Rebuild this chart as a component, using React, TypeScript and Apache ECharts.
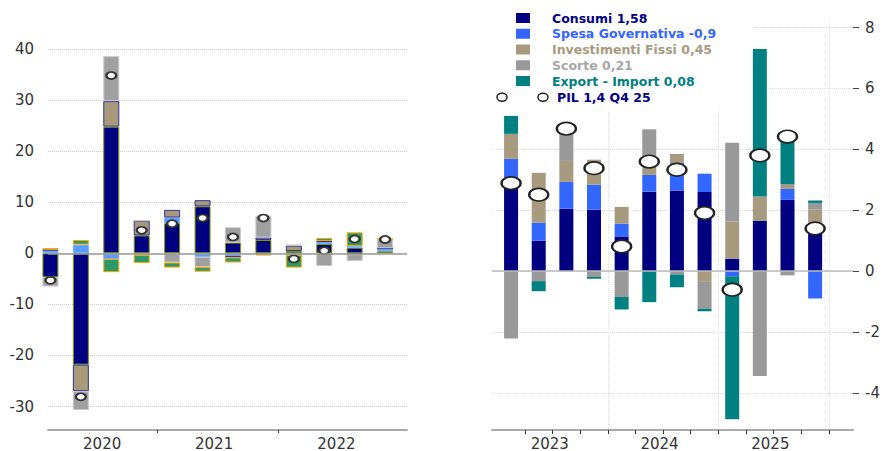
import React, { useEffect, useRef } from 'react';
import * as echarts from 'echarts';

// ---- data (left panel: 2020 Q1 .. 2022 Q4) ----
const leftQuarters = ['2020 Q1','2020 Q2','2020 Q3','2020 Q4','2021 Q1','2021 Q2','2021 Q3','2021 Q4','2022 Q1','2022 Q2','2022 Q3','2022 Q4'];
const leftConsumi = [-4.7, -21.8, 24.8, 3.5, 5.9, 9.2, 2.1, 2.6, 0.45, 1.8, 1.1, 0.4];
const leftSpesa = [0.6, 1.7, -1.1, -0.3, 1.1, -0.7, -0.5, -0.2, -0.3, 0.4, 0.3, 0.6];
const leftInvest = [0.1, -5.2, 5.0, 2.9, 1.5, 1.2, -0.3, 0.5, 1.05, 0.2, -0.2, 0.0];
const leftScorte = [-1.8, -3.7, 8.8, 0.0, -1.8, -2.0, 3.0, 4.2, 0.2, -2.5, -1.3, 1.8];
const leftExport = [0.3, 0.9, -2.6, -1.6, -1.0, -0.9, -1.0, -0.2, -2.5, 0.6, 2.7, 0.0];
const leftPil = [-5.3, -28.1, 34.8, 4.5, 5.8, 6.9, 3.2, 6.9, -1.1, 0.5, 2.8, 2.7];

// ---- data (right panel: 2023 Q1 .. 2025 Q4) ----
const rightQuarters = ['2023 Q1','2023 Q2','2023 Q3','2023 Q4','2024 Q1','2024 Q2','2024 Q3','2024 Q4','2025 Q1','2025 Q2','2025 Q3','2025 Q4'];
const rightConsumi = [2.76, 1.0, 2.05, 2.02, 1.14, 2.61, 2.65, 2.6, 0.41, 1.66, 2.34, 1.58];
const rightSpesa = [0.93, 0.59, 0.88, 0.82, 0.42, 0.55, 0.9, 0.6, -0.17, 0.0, 0.36, -0.9];
const rightInvest = [0.82, 1.64, 0.69, 0.82, 0.55, 0.3, 0.3, -0.33, 1.22, 0.79, 0.15, 0.45];
const rightScorte = [-2.21, -0.33, 1.1, -0.19, -0.85, 1.2, -0.11, -0.91, 2.59, -3.45, -0.14, 0.21];
const rightExport = [0.59, -0.33, 0.0, -0.06, -0.41, -1.02, -0.42, -0.08, -4.7, 4.85, 1.65, 0.08];
const rightPil = [2.89, 2.51, 4.68, 3.38, 0.81, 3.6, 3.33, 1.91, -0.61, 3.8, 4.42, 1.4];

// ---- tick labels ----
const leftYTicks = [-30, -20, -10, 0, 10, 20, 30, 40];
const rightYTicks = [-4, -2, 0, 2, 4, 6, 8];
const leftYears = ['2020', '2021', '2022'];
const rightYears = ['2023', '2024', '2025'];

// ---- legend ----
const seriesNames = ['Consumi', 'Spesa Governativa', 'Investimenti Fissi', 'Scorte', 'Export - Import'];
const legendLabels = ['Consumi 1,58', 'Spesa Governativa -0,9', 'Investimenti Fissi 0,45', 'Scorte 0,21', 'Export - Import 0,08'];
const pilLabel = 'PIL 1,4 Q4 25';

const App: React.FC = () => {
  const ref = useRef<HTMLDivElement>(null);

  useEffect(() => {
    if (!ref.current) return;
    document.body.style.margin = '0';
    const chart = echarts.init(ref.current, undefined, { renderer: 'svg' });

    const leftColors = ['#000080', '#5A9CFF', '#A8997B', '#A0A0A0', '#2E9966'];
    const leftBorders = ['#7A9A00', '#70B0FF', '#333399', '#C8C8C8', '#FFA500'];
    const rightColors = ['#000080', '#3366FF', '#A89A7E', '#999999', '#008080'];
    const legendTextColors = ['#000080', '#3366FF', '#A89A7E', '#A6A6A6', '#008080'];

    const leftData = [leftConsumi, leftSpesa, leftInvest, leftScorte, leftExport];
    const rightData = [rightConsumi, rightSpesa, rightInvest, rightScorte, rightExport];

    // value first, position second -> value dim is stacked
    const toPairs = (arr: number[]) => arr.map((v, i) => [v, i]);

    const font = 'DejaVu Sans';
    const axisText = { color: '#333', fontSize: 15, fontFamily: font };

    const series: any[] = [];
    leftData.forEach((arr, k) => {
      series.push({
        name: seriesNames[k] + ' (2020-2022)',
        type: 'bar',
        xAxisIndex: 0,
        yAxisIndex: 0,
        stack: 'left',
        stackStrategy: 'samesign',
        barWidth: 16,
        clip: true,
        encode: { x: 1, y: 0 },
        data: toPairs(arr),
        itemStyle: { color: leftColors[k], borderColor: leftBorders[k], borderWidth: 1 },
        markLine: k === 0 ? {
          silent: true, symbol: 'none', label: { show: false },
          lineStyle: { color: '#999', type: 'solid', width: 1.5 },
          data: [{ yAxis: 0 }],
        } : undefined,
      });
    });
    series.push({
      name: 'PIL (2020-2022)',
      type: 'scatter',
      xAxisIndex: 0,
      yAxisIndex: 0,
      z: 4,
      symbol: 'circle',
      symbolSize: [10, 7],
      encode: { x: 1, y: 0 },
      data: toPairs(leftPil),
      itemStyle: { color: '#fff', borderColor: '#333', borderWidth: 2, opacity: 1 },
    });
    rightData.forEach((arr, k) => {
      series.push({
        name: seriesNames[k],
        type: 'bar',
        xAxisIndex: 1,
        yAxisIndex: 1,
        stack: 'right',
        stackStrategy: 'samesign',
        barWidth: 14,
        encode: { x: 1, y: 0 },
        data: toPairs(arr),
        itemStyle: { color: rightColors[k] },
        markLine: k === 0 ? {
          silent: true, symbol: 'none', label: { show: false },
          lineStyle: { color: '#bbb', type: 'solid', width: 1.5 },
          data: [{ yAxis: 0 }],
        } : undefined,
      });
    });
    series.push({
      name: 'PIL',
      type: 'scatter',
      xAxisIndex: 1,
      yAxisIndex: 1,
      z: 4,
      symbol: 'circle',
      symbolSize: [19, 12.5],
      encode: { x: 1, y: 0 },
      data: toPairs(rightPil),
      itemStyle: { color: '#fff', borderColor: '#222', borderWidth: 2, opacity: 1 },
    });

    const legendTop = 18;
    const legendStep = 15.75;
    const graphic: any[] = [
      { type: 'rect', z: 1, shape: { x: 480, y: 0, width: 273, height: 109 }, style: { fill: '#fff' }, silent: true },
    ];
    legendLabels.forEach((lbl, k) => {
      const cy = legendTop + legendStep * k;
      graphic.push({ type: 'rect', z: 5, shape: { x: 516, y: cy - 5, width: 14, height: 10 }, style: { fill: rightColors[k] } });
      graphic.push({
        type: 'text', z: 5, x: 552, y: cy,
        style: { text: lbl, fill: legendTextColors[k], font: `bold 12.5px "${font}"`, verticalAlign: 'middle', align: 'left' },
      });
    });
    const pilY = legendTop + legendStep * 5 + 0.5;
    graphic.push({ type: 'ellipse', z: 5, shape: { cx: 502, cy: pilY, rx: 5, ry: 4 }, style: { fill: '#fff', stroke: '#222', lineWidth: 1.5 } });
    graphic.push({ type: 'ellipse', z: 5, shape: { cx: 543, cy: pilY, rx: 5, ry: 4 }, style: { fill: '#fff', stroke: '#222', lineWidth: 1.5 } });
    graphic.push({
      type: 'text', z: 5, x: 557, y: pilY,
      style: { text: pilLabel, fill: '#000080', font: `bold 12.5px "${font}"`, verticalAlign: 'middle', align: 'left' },
    });

    const yearFmt = (years: string[]) => (v: number) => (v < 3.5 ? years[0] : v < 7.5 ? years[1] : years[2]);
    const dotted = { color: '#cfcfcf', type: 'dotted' as const, width: 1 };

    chart.setOption({
      animation: false,
      backgroundColor: '#fff',
      tooltip: { show: false },
      grid: [
        { left: 48, right: 476, top: 49, bottom: 20.3, containLabel: false },
        { left: 492, right: 30, top: 20, bottom: 20.3, containLabel: false },
      ],
      xAxis: [
        {
          type: 'value', gridIndex: 0, min: -0.08, max: 11.72, position: 'bottom',
          axisLine: { show: true, onZero: false, lineStyle: { color: '#aaa', width: 2 } },
          axisTick: { show: true, length: 3, customValues: [3.5, 7.5], lineStyle: { color: '#333' } },
          axisLabel: { show: true, customValues: [1.7, 5.38, 9.4], formatter: yearFmt(leftYears), margin: 6, lineHeight: 15, ...axisText },
          splitLine: { show: false },
        },
        {
          type: 'value', gridIndex: 1, min: -0.69, max: 12.37, position: 'bottom',
          axisLine: { show: true, onZero: false, lineStyle: { color: '#aaa', width: 2 } },
          axisTick: { show: true, length: 4, customValues: [0.5, 1.5, 2.5, 3.5, 4.5, 5.5, 6.5, 7.5, 8.5, 9.5, 10.5, 11.5], lineStyle: { color: '#333' } },
          axisLabel: { show: true, customValues: [1.4, 5.37, 9.38], formatter: yearFmt(rightYears), margin: 6, lineHeight: 15, ...axisText },
          splitLine: { show: false },
        },
        {
          type: 'value', gridIndex: 1, min: -0.69, max: 12.37, position: 'top',
          axisLine: { show: false, onZero: false },
          axisTick: { show: false, customValues: [3.5, 7.5, 11.5] },
          axisLabel: { show: false },
          splitLine: { show: true, lineStyle: { color: '#e2e2e2', type: 'dotted', width: 1 } },
        },
      ],
      yAxis: [
        {
          type: 'value', gridIndex: 0, min: -34.6, max: 40, position: 'left',
          axisLine: { show: false, onZero: false },
          axisTick: { show: false, customValues: leftYTicks },
          axisLabel: { show: true, customValues: leftYTicks, margin: 14, ...axisText },
          splitLine: { show: true, lineStyle: dotted },
        },
        {
          type: 'value', gridIndex: 1, min: -5.22, max: 8.25, position: 'right',
          axisLine: { show: false, onZero: false },
          axisTick: { show: true, length: 6, customValues: rightYTicks, lineStyle: { color: '#444' } },
          axisLabel: { show: true, customValues: rightYTicks, margin: 12, color: '#333', fontSize: 15, fontFamily: font },
          splitLine: { show: true, lineStyle: { color: '#dcdcdc', type: 'dotted', width: 1 } },
        },
      ],
      graphic,
      series,
    });

    return () => chart.dispose();
  }, []);

  return (
    <div
      ref={ref}
      data-quarters={leftQuarters.length + rightQuarters.length}
      style={{ width: 883, height: 451, background: '#fff' }}
    />
  );
};

export default App;
